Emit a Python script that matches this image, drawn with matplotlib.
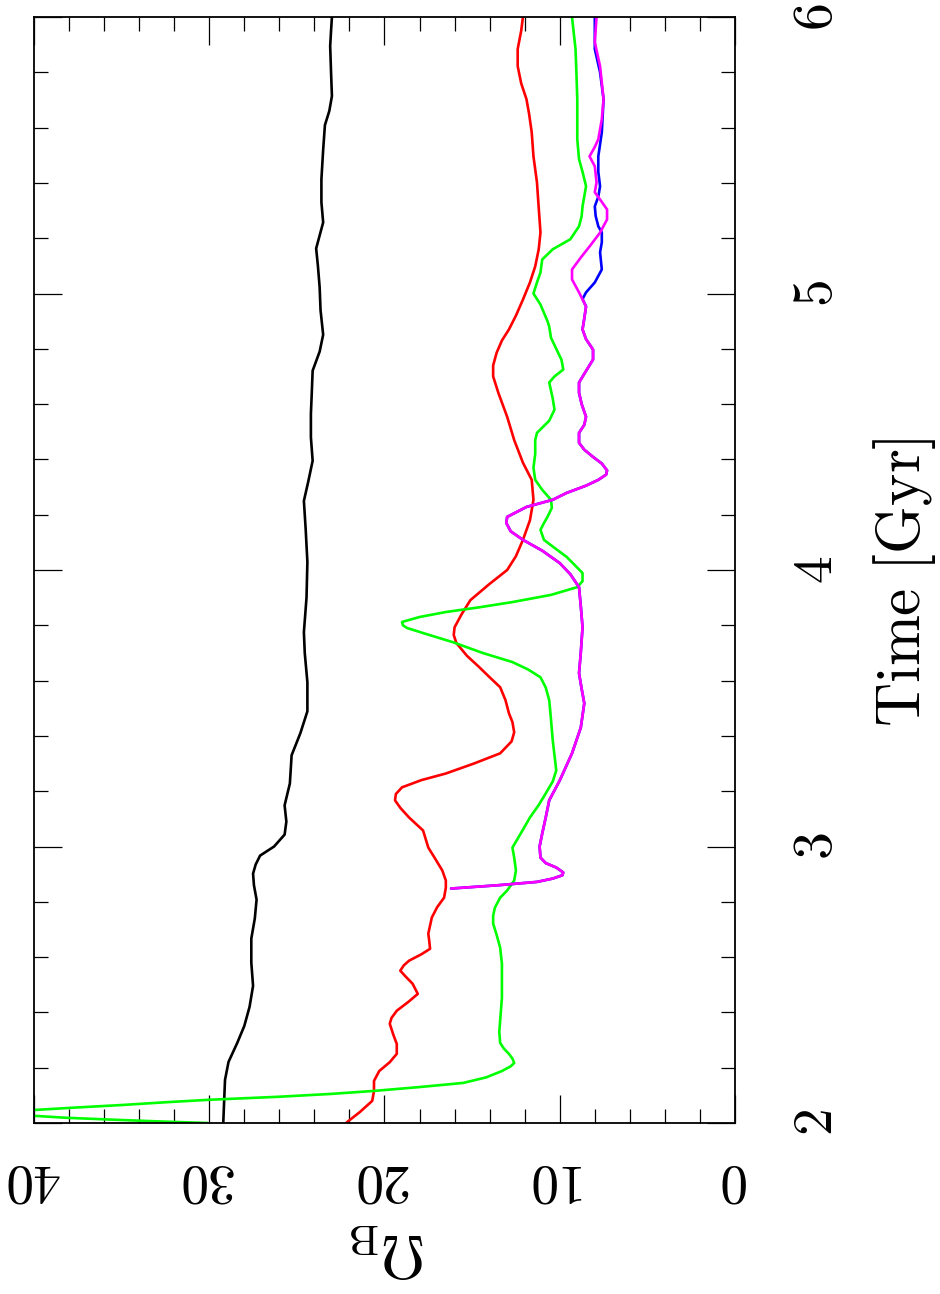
import numpy as np
import matplotlib
matplotlib.use("Agg")
import matplotlib.pyplot as plt
from matplotlib.ticker import MultipleLocator

plt.rcParams["font.family"] = "cmr10"
plt.rcParams["mathtext.fontset"] = "cm"
plt.rcParams["axes.formatter.use_mathtext"] = True

t_black = [2.0, 2.08, 2.156, 2.221, 2.29, 2.351, 2.42, 2.496, 2.58, 2.667, 2.74, 2.808,
           2.86, 2.902, 2.935, 2.967, 3.0, 3.043, 3.09, 3.149, 3.228, 3.33, 3.41, 3.489,
           3.594, 3.70, 3.775, 3.90, 4.029, 4.15, 4.25, 4.32, 4.395, 4.48, 4.565, 4.64,
           4.721, 4.79, 4.851, 4.94, 5.022, 5.10, 5.163, 5.21, 5.257, 5.33, 5.413, 5.52,
           5.609, 5.66, 5.714, 5.80, 5.895, 5.95, 6.0]
om_black = [29.2, 29.15, 29.1, 28.9, 28.4, 28.0, 27.7, 27.5, 27.6, 27.6, 27.4, 27.3,
            27.45, 27.5, 27.35, 27.1, 26.3, 25.7, 25.6, 25.7, 25.4, 25.3, 24.8, 24.4,
            24.4, 24.55, 24.6, 24.45, 24.4, 24.5, 24.6, 24.35, 24.1, 24.2, 24.2, 24.15,
            24.1, 23.7, 23.5, 23.65, 23.7, 23.8, 23.9, 23.7, 23.5, 23.6, 23.6, 23.5,
            23.4, 23.15, 23.0, 23.05, 23.1, 23.05, 23.0]

t_red = [2.0, 2.04, 2.08, 2.116, 2.152, 2.188, 2.22, 2.25, 2.286, 2.32, 2.359, 2.38,
         2.406, 2.44, 2.467, 2.504, 2.53, 2.551, 2.57, 2.587, 2.61, 2.63, 2.66, 2.685,
         2.743, 2.78, 2.815, 2.851, 2.877, 2.913, 2.955, 2.996, 3.058, 3.105, 3.14, 3.167,
         3.19, 3.214, 3.24, 3.264, 3.30, 3.337, 3.38, 3.413, 3.45, 3.482, 3.53, 3.576,
         3.612, 3.649, 3.69, 3.736, 3.765, 3.793, 3.84, 3.891, 3.95, 4.0, 4.05, 4.109,
         4.18, 4.254, 4.326, 4.388, 4.47, 4.554, 4.64, 4.70, 4.74, 4.786, 4.83, 4.87,
         4.92, 4.978, 5.04, 5.098, 5.16, 5.221, 5.31, 5.402, 5.496, 5.583, 5.65, 5.703,
         5.76, 5.822, 5.884, 5.95, 6.0]
om_red = [22.2, 21.4, 20.7, 20.6, 20.6, 20.3, 19.7, 19.3, 19.3, 19.5, 19.7, 19.6,
          19.3, 18.6, 18.1, 18.4, 18.8, 19.1, 18.9, 18.6, 17.9, 17.4, 17.45, 17.5,
          17.3, 17.0, 16.6, 16.5, 16.5, 16.7, 17.1, 17.5, 17.8, 18.6, 19.1, 19.4,
          19.35, 19.0, 17.9, 16.5, 14.9, 13.4, 12.75, 12.6, 12.7, 12.9, 13.1, 13.4,
          14.0, 14.6, 15.3, 15.9, 16.05, 16.0, 15.6, 15.1, 14.0, 13.0, 12.5, 12.1,
          11.7, 11.5, 11.6, 12.1, 12.6, 13.0, 13.5, 13.8, 13.8, 13.6, 13.3, 12.9,
          12.5, 12.1, 11.7, 11.4, 11.2, 11.1, 11.2, 11.3, 11.5, 11.6, 11.75, 11.9,
          12.2, 12.4, 12.4, 12.2, 12.1]

t_green = [2.0, 2.006, 2.012, 2.019, 2.026, 2.031, 2.036, 2.041, 2.047, 2.056, 2.065,
           2.075, 2.084, 2.095, 2.105, 2.116, 2.13, 2.145, 2.165, 2.188, 2.205, 2.217,
           2.233, 2.25, 2.27, 2.29, 2.33, 2.37, 2.453, 2.52, 2.576, 2.634, 2.68, 2.721,
           2.75, 2.779, 2.815, 2.841, 2.877, 2.913, 2.96, 2.996, 3.05, 3.105, 3.15, 3.192,
           3.235, 3.275, 3.33, 3.384, 3.46, 3.529, 3.575, 3.612, 3.64, 3.667, 3.70, 3.739,
           3.77, 3.79, 3.80, 3.812, 3.83, 3.848, 3.865, 3.884, 3.91, 3.938, 3.96, 3.989,
           4.015, 4.047, 4.08, 4.109, 4.145, 4.17, 4.192, 4.225, 4.254, 4.29, 4.326, 4.37,
           4.42, 4.47, 4.496, 4.54, 4.58, 4.62, 4.678, 4.70, 4.725, 4.76, 4.80, 4.84,
           4.88, 4.90, 4.96, 5.0, 5.04, 5.076, 5.123, 5.16, 5.196, 5.243, 5.28, 5.315,
           5.388, 5.44, 5.486, 5.558, 5.63, 5.703, 5.80, 5.884, 6.0]
om_green = [30.1, 33.0, 35.5, 38.2, 40.0, 40.8, 41.1, 40.8, 40.0, 37.6, 35.0,
            32.5, 30.0, 26.0, 23.1, 20.6, 18.0, 15.5, 14.2, 13.3, 12.8, 12.6,
            12.7, 12.9, 13.2, 13.4, 13.45, 13.4, 13.3, 13.3, 13.3, 13.4, 13.6, 13.8,
            13.8, 13.7, 13.4, 13.0, 12.6, 12.5, 12.6, 12.7, 12.2, 11.7, 11.2, 10.8,
            10.4, 10.2, 10.3, 10.4, 10.5, 10.6, 10.8, 11.1, 11.8, 12.7, 14.4, 16.1,
            17.7, 18.7, 18.95, 19.0, 18.0, 16.5, 14.6, 12.7, 10.5, 9.0, 8.7, 8.7,
            9.1, 9.6, 10.3, 10.9, 11.1, 10.9, 10.7, 10.45, 10.5, 11.0, 11.4, 11.5,
            11.4, 11.4, 11.3, 10.6, 10.3, 10.4, 10.6, 10.3, 9.8, 9.9, 10.2, 10.5,
            10.6, 10.7, 11.1, 11.5, 11.3, 11.1, 11.0, 10.4, 9.4, 8.9, 8.75, 8.7,
            8.5, 8.7, 8.9, 9.0, 9.0, 9.0, 9.05, 9.1, 9.3]

t_magenta = [2.848, 2.86, 2.872, 2.884, 2.896, 2.906, 2.924, 2.94, 2.96, 3.0, 3.047,
             3.105, 3.167, 3.239, 3.337, 3.43, 3.518, 3.57, 3.627, 3.70, 3.793, 3.87,
             3.938, 3.985, 4.025, 4.07, 4.109, 4.14, 4.17, 4.192, 4.228, 4.254, 4.279,
             4.305, 4.326, 4.345, 4.36, 4.385, 4.409, 4.435, 4.46, 4.496, 4.525, 4.554,
             4.60, 4.641, 4.678, 4.72, 4.761, 4.797, 4.835, 4.87, 4.91, 4.953, 5.004,
             5.051, 5.087, 5.13, 5.17, 5.22, 5.268, 5.304, 5.34, 5.366, 5.402, 5.46,
             5.496, 5.53, 5.558, 5.63, 5.703, 5.822, 5.909, 6.0]
om_magenta = [16.2, 13.5, 11.3, 10.4, 9.85, 9.8, 10.2, 10.8, 11.1, 11.15, 11.0,
              10.8, 10.6, 10.0, 9.3, 8.8, 8.6, 8.75, 8.9, 8.8, 8.7, 8.8,
              8.9, 9.4, 10.0, 11.0, 12.1, 12.8, 13.05, 13.0, 11.9, 10.4, 9.6,
              8.5, 7.8, 7.35, 7.3, 7.6, 8.1, 8.6, 8.9, 8.9, 8.6, 8.5,
              8.75, 8.9, 8.9, 8.5, 8.1, 8.1, 8.5, 8.7, 8.6, 8.5, 8.9,
              9.3, 9.3, 8.8, 8.3, 7.7, 7.3, 7.3, 7.7, 8.0, 7.9, 8.0,
              8.3, 8.0, 7.8, 7.6, 7.5, 7.7, 8.0, 7.9]

# blue runs under magenta until ~5 Gyr, then splits off
n_shared = 54
t_blue = t_magenta[:n_shared] + [4.98, 5.004, 5.04, 5.087, 5.149, 5.185, 5.221, 5.243,
                                 5.28, 5.315, 5.35, 5.388, 5.44, 5.496, 5.583, 5.703,
                                 5.80, 5.884, 6.0]
om_blue = om_magenta[:n_shared] + [8.7, 8.5, 8.0, 7.6, 7.7, 7.6, 7.6, 7.8,
                                   7.95, 8.0, 7.8, 7.7, 7.8, 7.8, 7.6, 7.5,
                                   7.7, 8.0, 8.0]

fig = plt.figure(figsize=(9.4, 12.94), dpi=100)
ax = fig.add_axes([34 / 940, 1 - 1123 / 1294, 701 / 940, 1106 / 1294])

style = dict(lw=1.9, solid_joinstyle="round", solid_capstyle="round")
ax.plot(om_black, t_black, color="black", **style)
ax.plot(om_red, t_red, color="#ff0000", **style)
ax.plot(om_green, t_green, color="#00ff00", **style)
ax.plot(om_blue, t_blue, color="#0000ff", **style)
ax.plot(om_magenta, t_magenta, color="#ff00ff", **style)

ax.set_xlim(40, 0)
ax.set_ylim(2, 6)
ax.xaxis.set_major_locator(MultipleLocator(10))
ax.xaxis.set_minor_locator(MultipleLocator(2))
ax.yaxis.set_major_locator(MultipleLocator(1))
ax.yaxis.set_minor_locator(MultipleLocator(0.2))

ax.tick_params(which="both", direction="in", top=True, bottom=True, left=True, right=True,
               labelleft=False, labelright=True, width=0.9)
ax.tick_params(which="major", length=20)
ax.tick_params(which="minor", length=10)
ax.tick_params(axis="x", labelsize=40, pad=22, labelrotation=180)
ax.tick_params(axis="y", labelsize=40, pad=42, labelrotation=90)
for lab in ax.get_yticklabels():
    lab.set_va("center")
for sp in ax.spines.values():
    sp.set_linewidth(1.3)

fig.text(905 / 940, 1 - 582 / 1294, r"$\rm Time\ [Gyr]$", fontsize=44,
         rotation=90, ha="center", va="center")
fig.text(388 / 940, 1 - 1250 / 1294, r"$\Omega_{\rm B}$", fontsize=44,
         rotation=180, ha="center", va="center")

fig.savefig("out.png", dpi=100)
